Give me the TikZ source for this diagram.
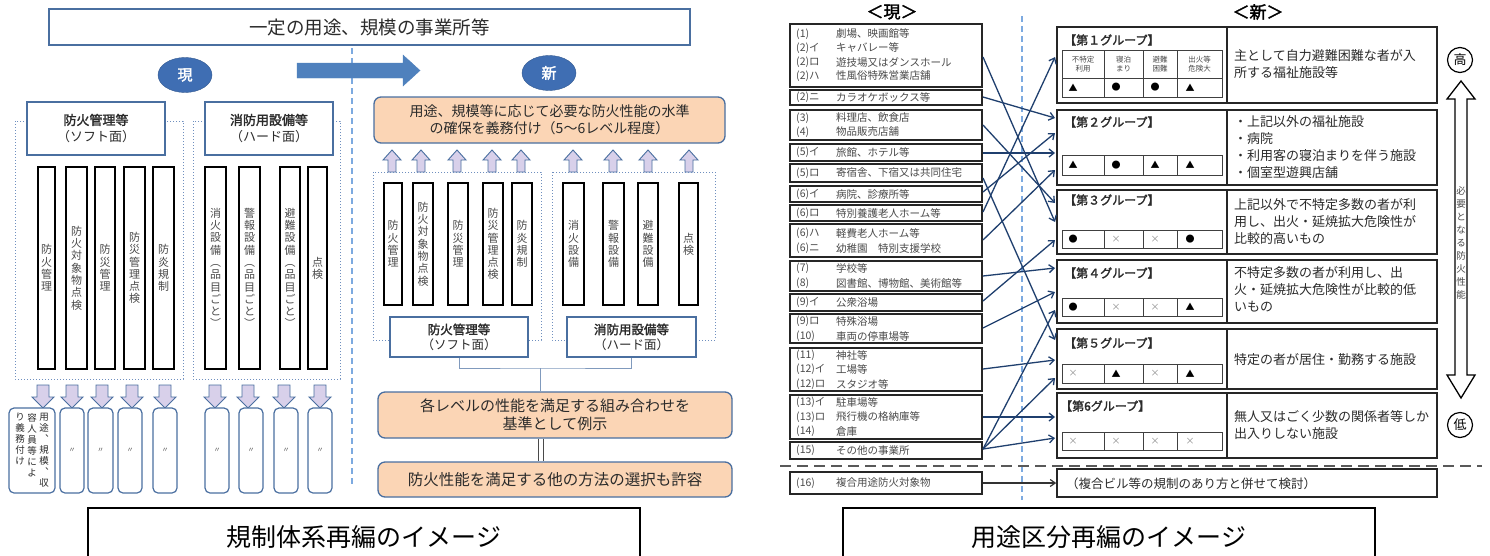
\documentclass[tikz,border=0pt]{standalone}
\usepackage{fontspec}
\setmainfont[AutoFakeBold=2]{Noto Sans CJK JP}
\usetikzlibrary{arrows.meta,shapes.geometric}
\definecolor{bl}{HTML}{4A6FA0}
\definecolor{ellblue}{HTML}{3F6EB3}
\definecolor{arrblue}{HTML}{4F81BD}
\definecolor{peach}{HTML}{FBD5B5}
\definecolor{lav}{HTML}{D8D0EA}
\definecolor{dotb}{HTML}{6F8FBF}
\definecolor{dashb}{HTML}{7DAAE0}
\definecolor{navy}{HTML}{1F3F6E}
\definecolor{txt}{HTML}{2B2B2B}
\definecolor{txtg}{HTML}{4A4A4A}
\newcommand{\rb}[7][]{\node[#1, minimum width={(#4-#3)*1pt}, minimum height={(#6-#5)*1pt}] (#2) at ({(#3+#4)/2},{(#5+#6)/2}) {#7};}
\newcommand{\darr}[3]{\draw[blk] (#2-6,#3) -- (#2+6,#3) -- (#2+6,#3+12) -- (#2+11,#3+12) -- (#2,#3+23) -- (#2-11,#3+12) -- (#2-6,#3+12) -- cycle; \coordinate (#1) at (#2,#3);}
\newcommand{\uarr}[3]{\draw[blk] (#2,#3) -- (#2+9,#3+10) -- (#2+4,#3+10) -- (#2+4,#3+22) -- (#2-4,#3+22) -- (#2-4,#3+10) -- (#2-9,#3+10) -- cycle; \coordinate (#1) at (#2,#3);}
\newcommand{\lrow}[4]{\node[ltxt] (#1a) at (796,#2) {#3}; \node[ltxt] (#1b) at (836,#2) {#4};}
\newcommand{\symT}{▲}
\newcommand{\symD}{●}
\newcommand{\symX}{\textcolor{black!45}{×}}
\newcommand{\trow}[7]{%
  \draw[tbl] (1062,#1) rectangle (1222,#2);
  \foreach \xx in {1104,1143,1177} {\draw[tbl] (\xx,#1) -- (\xx,#2);}
  \node[sym] (#7s1) at (1073,{(#1+#2)/2}) {#3};
  \node[sym] (#7s2) at (1116,{(#1+#2)/2}) {#4};
  \node[sym] (#7s3) at (1155,{(#1+#2)/2}) {#5};
  \node[sym] (#7s4) at (1190,{(#1+#2)/2}) {#6};}
\begin{document}
\begin{tikzpicture}[x=1pt,y=-1pt,
  hbox/.style={draw=bl, line width=1.1pt, fill=white, inner sep=0pt, text=txt, align=center, font=\fontsize{13}{17}\selectfont},
  bar/.style={draw=black, line width=1.5pt, fill=white, inner sep=0pt, align=center, text=txtg, font=\fontsize{11}{12.3}\selectfont},
  dotbox/.style={draw=dotb, line width=1pt, dotted},
  rbox/.style={draw=bl, line width=1.2pt, rounded corners=5pt, fill=white, inner sep=0pt},
  obox/.style={draw=bl, line width=1.3pt, rounded corners=7pt, fill=peach, inner sep=0pt, align=center, text=txt},
  blk/.style={draw=bl, line width=0.9pt, fill=lav},
  ell/.style={ellipse, fill=ellblue, draw=ellblue!80!black, minimum width=54pt, minimum height=35pt, inner sep=0pt, text=white, font=\bfseries\fontsize{15}{15}\selectfont},
  lk/.style={draw=bl!70, line width=0.8pt},
  conn/.style={draw=navy, line width=1.3pt, -{Straight Barb[length=5pt,width=8pt]}},
  lbox/.style={draw=black!85, line width=1.6pt, fill=white, inner sep=0pt},
  gbox/.style={draw=black!85, line width=1.6pt, inner sep=0pt},
  ltxt/.style={anchor=west, inner sep=0pt, text=txtg, font=\fontsize{10.5}{12}\selectfont},
  gtxt/.style={anchor=west, inner sep=0pt, text=txt, align=left, font=\fontsize{13}{17}\selectfont},
  ttl/.style={anchor=west, inner sep=0pt, text=txt, font=\bfseries\fontsize{12}{12}\selectfont},
  sym/.style={inner sep=0pt, font=\fontsize{9}{9}\selectfont},
  tbl/.style={draw=black!75, line width=0.9pt},
  hdr/.style={inner sep=0pt, align=center, text=txtg, font=\fontsize{7.5}{9}\selectfont},
  vt/.style={inner sep=0pt, align=center, text=txt, font=\fontsize{9.5}{11}\selectfont},
  capbox/.style={draw=black, line width=1.5pt, fill=white, inner sep=0pt}
]
\useasboundingbox (0,0) rectangle (1490,555);
\fill[white] (0,0) rectangle (1490,555);

% ================= LEFT HALF =================
\draw[draw=dashb, line width=1.2pt, dash pattern=on 6pt off 4pt] (352,48) -- (352,484);
\rb[hbox, font=\fontsize{18.5}{20}\selectfont]{top}{49}{690}{9}{45}{一定の用途、規模の事業所等}
\node[ell] (now) at (185,75) {現};
\node[ell] (new) at (549,73) {新};
\draw[fill=arrblue, draw=arrblue] (297,63) -- (403,63) -- (403,55) -- (420,70.5) -- (403,86) -- (403,78) -- (297,78) -- cycle;

% current: soft / hard
\draw[dotbox] (15,121) rectangle (183,379);
\draw[dotbox] (193,121) rectangle (340,379);
\rb[hbox]{softA}{27}{165}{102}{155}{\textbf{防火管理等}\\（ソフト面）}
\rb[hbox]{hardA}{205}{333}{102}{155}{\textbf{消防用設備等}\\（ハード面）}
\rb[bar]{a1}{38}{55}{167}{369}{防\\火\\管\\理}
\rb[bar]{a2}{66}{87}{167}{369}{防\\火\\対\\象\\物\\点\\検}
\rb[bar]{a3}{95}{115}{167}{369}{防\\災\\管\\理}
\rb[bar]{a4}{124}{145}{167}{369}{防\\災\\管\\理\\点\\検}
\rb[bar]{a5}{153}{174}{167}{369}{防\\炎\\規\\制}
\rb[bar]{a6}{205}{226}{167}{369}{消\\火\\設\\備\\︵\\品\\目\\ご\\と\\︶}
\rb[bar]{a7}{239}{260}{167}{369}{警\\報\\設\\備\\︵\\品\\目\\ご\\と\\︶}
\rb[bar]{a8}{280}{300}{167}{369}{避\\難\\設\\備\\︵\\品\\目\\ご\\と\\︶}
\rb[bar]{a9}{308}{327}{167}{369}{点\\検}
\darr{da1}{43}{385}
\darr{da2}{72}{385}
\darr{da3}{102}{385}
\darr{da4}{132}{385}
\darr{da5}{165}{385}
\darr{da6}{215}{385}
\darr{da7}{248}{385}
\darr{da8}{284}{385}
\darr{da9}{320}{385}
\rb[rbox]{c1}{9}{55}{408}{493}{}
\node[vt, anchor=north] (c1a) at (44,413) {用\\途\\︑\\規\\模\\︑\\収};
\node[vt, anchor=north] (c1b) at (32,413) {容\\人\\員\\等\\に\\よ};
\node[vt, anchor=north] (c1c) at (20,413) {り\\義\\務\\付\\け};
\rb[rbox, font=\fontsize{7}{7}\selectfont, text=txtg]{c2}{60}{84}{408}{493}{〃}
\rb[rbox, font=\fontsize{7}{7}\selectfont, text=txtg]{c3}{88}{113}{408}{493}{〃}
\rb[rbox, font=\fontsize{7}{7}\selectfont, text=txtg]{c4}{118}{142}{408}{493}{〃}
\rb[rbox, font=\fontsize{7}{7}\selectfont, text=txtg]{c5}{153}{177}{408}{493}{〃}
\rb[rbox, font=\fontsize{7}{7}\selectfont, text=txtg]{c6}{205}{229}{408}{493}{〃}
\rb[rbox, font=\fontsize{7}{7}\selectfont, text=txtg]{c7}{239}{263}{408}{493}{〃}
\rb[rbox, font=\fontsize{7}{7}\selectfont, text=txtg]{c8}{274}{298}{408}{493}{〃}
\rb[rbox, font=\fontsize{7}{7}\selectfont, text=txtg]{c9}{308}{332}{408}{493}{〃}

% new side
\rb[obox, font=\fontsize{14}{17}\selectfont]{req}{374}{725}{97}{143}{用途、規模等に応じて必要な防火性能の水準\\の確保を義務付け（5～6レベル程度）}
\uarr{ua1}{392}{150}
\uarr{ua2}{421}{150}
\uarr{ua3}{457}{150}
\uarr{ua4}{492}{150}
\uarr{ua5}{521}{150}
\uarr{ua6}{573}{150}
\uarr{ua7}{613}{150}
\uarr{ua8}{648}{150}
\uarr{ua9}{689}{150}
\draw[dotbox] (373,172) rectangle (541,340);
\draw[dotbox] (552,172) rectangle (715,340);
\rb[bar]{b1}{384}{402}{183}{305}{防\\火\\管\\理}
\rb[bar]{b2}{413}{433}{183}{305}{防\\火\\対\\象\\物\\点\\検}
\rb[bar]{b3}{448}{468}{183}{305}{防\\災\\管\\理}
\rb[bar]{b4}{483}{503}{183}{305}{防\\災\\管\\理\\点\\検}
\rb[bar]{b5}{512}{532}{183}{305}{防\\炎\\規\\制}
\rb[bar]{b6}{563}{584}{183}{305}{消\\火\\設\\備}
\rb[bar]{b7}{603}{624}{183}{305}{警\\報\\設\\備}
\rb[bar]{b8}{638}{658}{183}{305}{避\\難\\設\\備}
\rb[bar]{b9}{679}{698}{183}{305}{点\\検}
\rb[hbox, font=\fontsize{12.5}{15}\selectfont]{softB}{390}{528}{317}{357}{\textbf{防火管理等}\\（ソフト面）}
\rb[hbox, font=\fontsize{12.5}{15}\selectfont]{hardB}{567}{696}{317}{357}{\textbf{消防用設備等}\\（ハード面）}
\rb[obox, font=\fontsize{15}{18}\selectfont]{comb}{378}{732}{392}{438}{各レベルの性能を満足する組み合わせを\\基準として例示}
\rb[obox, font=\fontsize{15.5}{18}\selectfont]{alt}{378}{732}{462}{497}{防火性能を満足する他の方法の選択も許容}
\coordinate (jn) at (540,368);
\draw[lk] (softB.south) |- (jn) -| (hardB.south);
\draw[lk] (jn) -- (jn |- comb.north);
\draw[line width=0.9pt, draw=txtg] (comb.south -| 538,0) -- (alt.north -| 538,0);
\draw[line width=0.9pt, draw=txtg] (comb.south -| 543,0) -- (alt.north -| 543,0);

\rb[capbox]{capL}{88}{640}{508}{570}{}
\node[inner sep=0pt, font=\fontsize{25}{25}\selectfont] (capLt) at (364,537) {規制体系再編のイメージ};

% ================= RIGHT HALF =================
\node[inner sep=0pt, font=\bfseries\fontsize{17}{17}\selectfont] (hOld) at (892,12) {＜現＞};
\node[inner sep=0pt, font=\bfseries\fontsize{17}{17}\selectfont] (hNew) at (1258,12) {＜新＞};
\draw[draw=dashb, line width=1.2pt, dash pattern=on 6pt off 4pt] (1022,16) -- (1022,500);
\draw[draw=black!65, line width=1.6pt, dash pattern=on 11pt off 6pt] (780,466) -- (1482,466);

% old categories
\rb[lbox]{LA}{790}{982}{24}{87}{}
\rb[lbox]{LB}{790}{982}{90}{105}{}
\rb[lbox]{LC}{790}{982}{110}{140}{}
\rb[lbox]{LD}{790}{982}{144}{161}{}
\rb[lbox]{LE}{790}{982}{164}{182}{}
\rb[lbox]{LF}{790}{982}{186}{202}{}
\rb[lbox]{LG}{790}{982}{205}{221}{}
\rb[lbox]{LH}{790}{982}{224}{257}{}
\rb[lbox]{LI}{790}{982}{261}{291}{}
\rb[lbox]{LJ}{790}{982}{294}{311}{}
\rb[lbox]{LK}{790}{982}{314}{343}{}
\rb[lbox]{LL}{790}{982}{348}{391}{}
\rb[lbox]{LM}{790}{982}{395}{439}{}
\rb[lbox]{LN}{790}{982}{442}{459}{}
\rb[lbox]{LO}{790}{982}{472}{494}{}
\lrow{ra1}{34}{(1)}{劇場、映画館等}
\lrow{ra2}{48}{(2)イ}{キャバレー等}
\lrow{ra3}{62}{(2)ロ}{遊技場又はダンスホール}
\lrow{ra4}{76}{(2)ハ}{性風俗特殊営業店舗}
\lrow{rb1}{97.5}{(2)ニ}{カラオケボックス等}
\lrow{rc1}{118}{(3)}{料理店、飲食店}
\lrow{rc2}{132}{(4)}{物品販売店舗}
\lrow{rd1}{152.5}{(5)イ}{旅館、ホテル等}
\lrow{re1}{173}{(5)ロ}{寄宿舎、下宿又は共同住宅}
\lrow{rf1}{194}{(6)イ}{病院、診療所等}
\lrow{rg1}{213}{(6)ロ}{特別養護老人ホーム等}
\lrow{rh1}{233}{(6)ハ}{軽費老人ホーム等}
\lrow{rh2}{248}{(6)ニ}{幼稚園　特別支援学校}
\lrow{ri1}{268.5}{(7)}{学校等}
\lrow{ri2}{283.5}{(8)}{図書館、博物館、美術館等}
\lrow{rj1}{302.5}{(9)イ}{公衆浴場}
\lrow{rk1}{321.5}{(9)ロ}{特殊浴場}
\lrow{rk2}{336}{(10)}{車両の停車場等}
\lrow{rl1}{355}{(11)}{神社等}
\lrow{rl2}{369.5}{(12)イ}{工場等}
\lrow{rl3}{384}{(12)ロ}{スタジオ等}
\lrow{rm1}{402}{(13)イ}{駐車場等}
\lrow{rm2}{417}{(13)ロ}{飛行機の格納庫等}
\lrow{rm3}{431.5}{(14)}{倉庫}
\lrow{rn1}{450.5}{(15)}{その他の事業所}
\lrow{ro1}{483}{(16)}{複合用途防火対象物}

% new groups
\rb[gbox]{G1}{1057}{1437}{27}{103}{}
\rb[gbox]{G2}{1057}{1437}{110}{185}{}
\rb[gbox]{G3}{1057}{1437}{190}{254}{}
\rb[gbox]{G4}{1057}{1437}{260}{323}{}
\rb[gbox]{G5}{1057}{1437}{329}{389}{}
\rb[gbox]{G6}{1057}{1437}{393}{458}{}
\rb[gbox]{CX}{1057}{1437}{469}{497}{}
\foreach \g in {G1,G2,G3,G4,G5,G6} {\draw[draw=black!85, line width=1.6pt] (\g.north -| 1227,0) -- (\g.south -| 1227,0);}
\node[ttl] (t1) at (1064,40) {【第１グループ】};
\node[ttl] (t2) at (1064,122) {【第２グループ】};
\node[ttl] (t3) at (1064,200) {【第３グループ】};
\node[ttl] (t4) at (1064,273) {【第４グループ】};
\node[ttl] (t5) at (1064,343) {【第５グループ】};
\node[ttl] (t6) at (1060,406) {【第6グループ】};
\draw[tbl] (1062,50) -- (1222,50);
\foreach \xx in {1062,1104,1143,1177,1222} {\draw[tbl] (\xx,50) -- (\xx,78);}
\node[hdr] (h1) at (1083,64) {不特定\\利用};
\node[hdr] (h2) at (1123.5,64) {寝泊\\まり};
\node[hdr] (h3) at (1160,64) {避難\\困難};
\node[hdr] (h4) at (1199.5,64) {出火等\\危険大};
\trow{78}{97}{\symT}{\symD}{\symD}{\symT}{q1}
\trow{155}{175}{\symT}{\symD}{\symT}{\symT}{q2}
\trow{230}{248}{\symD}{\symX}{\symX}{\symD}{q3}
\trow{298}{316}{\symD}{\symX}{\symX}{\symT}{q4}
\trow{364}{383}{\symX}{\symT}{\symX}{\symT}{q5}
\trow{432}{450}{\symX}{\symX}{\symX}{\symX}{q6}
\node[gtxt, anchor=north west] (d1) at (1234,49) {主として自力避難困難な者が入\\所する福祉施設等};
\node[gtxt, anchor=north west] (d2) at (1234,115) {・上記以外の福祉施設\\・病院\\・利用客の寝泊まりを伴う施設\\・個室型遊興店舗};
\node[gtxt, anchor=north west] (d3) at (1234,198) {上記以外で不特定多数の者が利\\用し、出火・延焼拡大危険性が\\比較的高いもの};
\node[gtxt, anchor=north west] (d4) at (1234,266) {不特定多数の者が利用し、出\\火・延焼拡大危険性が比較的低\\いもの};
\node[gtxt] (d5) at (1234,360) {特定の者が居住・勤務する施設};
\node[gtxt, anchor=north west] (d6) at (1234,410) {無人又はごく少数の関係者等しか\\出入りしない施設};
\node[gtxt, font=\fontsize{12.5}{14}\selectfont] (d7) at (1066,484) {（複合ビル等の規制のあり方と併せて検討）};

% high/low scale
\draw[line width=1.3pt, fill=white] (1461,81) -- (1475,99) -- (1467,99) -- (1467,375) -- (1475,375) -- (1461,398) -- (1447,375) -- (1455,375) -- (1455,99) -- (1447,99) -- cycle;
\node[circle, draw=black, line width=1.2pt, minimum size=25pt, inner sep=0pt, font=\fontsize{13}{13}\selectfont] (hi) at (1460,60) {高};
\node[circle, draw=black, line width=1.2pt, minimum size=25pt, inner sep=0pt, font=\fontsize{13}{13}\selectfont] (lo) at (1460,425) {低};
\node[inner sep=0pt, align=center, text=txtg, font=\fontsize{9.5}{13}\selectfont] (need) at (1461,243) {必\\要\\と\\な\\る\\防\\火\\性\\能};

% connectors
\coordinate (sA) at (983,57);   \coordinate (eA) at (1055,222);
\coordinate (sB) at (983,97);   \coordinate (eB) at (1055,118);
\coordinate (sC) at (983,125);  \coordinate (eC) at (1055,203);
\coordinate (sD) at (983,153);  \coordinate (eD) at (1055,153);
\coordinate (sE) at (983,178);  \coordinate (eE) at (1055,340);
\coordinate (sF) at (983,192);  \coordinate (eF) at (1055,133);
\coordinate (sG) at (983,212);  \coordinate (eG) at (1055,57);
\coordinate (sH) at (983,240);  \coordinate (eH) at (1055,170);
\coordinate (sI) at (983,276);  \coordinate (eI) at (1055,268);
\coordinate (sJ) at (983,301);  \coordinate (eJ) at (1055,240);
\coordinate (sK) at (983,328);  \coordinate (eK) at (1055,292);
\coordinate (sL) at (983,369);  \coordinate (eL) at (1055,360);
\coordinate (sM) at (983,417);  \coordinate (eM) at (1055,417);
\coordinate (sN) at (983,449);
\coordinate (eN1) at (1055,310); \coordinate (eN2) at (1055,378); \coordinate (eN3) at (1055,438);
\foreach \k in {A,B,C,D,E,F,G,H,I,J,K,L,M} {\draw[conn] (s\k) -- (e\k);}
\draw[conn] (sN) -- (eN1);
\draw[conn] (sN) -- (eN2);
\draw[conn] (sN) -- (eN3);
\draw[draw=black!80, line width=1.2pt, -{Straight Barb[length=5pt,width=7pt]}] (LO.east) -- (CX.west);

\rb[capbox]{capR}{843}{1375}{508}{570}{}
\node[inner sep=0pt, font=\fontsize{25}{25}\selectfont] (capRt) at (1109,537) {用途区分再編のイメージ};
\end{tikzpicture}
\end{document}
